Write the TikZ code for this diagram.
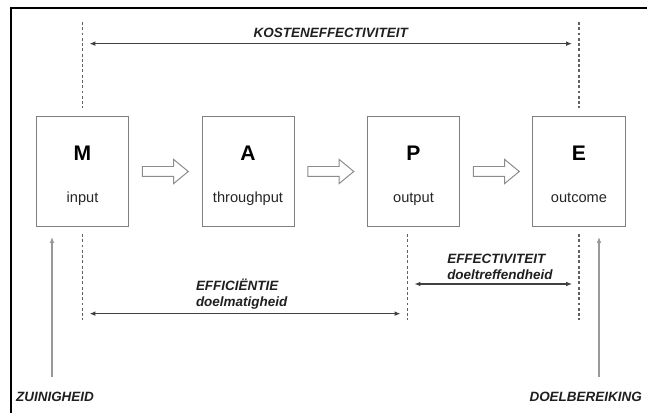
\documentclass[tikz,border=0pt]{standalone}
\usepackage{fontspec}
\setmainfont{Liberation Sans}
\usetikzlibrary{arrows.meta, positioning, shapes.arrows, calc}

\begin{document}
\begin{tikzpicture}[
    node distance=1cm and 2.175cm,
    stage/.style={rectangle, draw=black!50, line width=0.85pt, minimum width=2.76cm, minimum height=3.3cm, inner sep=0pt},
    letter/.style={anchor=base, inner sep=0pt, font=\fontsize{18}{21}\selectfont\bfseries},
    role/.style={anchor=base, inner sep=0pt, text=black!85, font=\fontsize{12.5}{15}\selectfont},
    flow/.style={single arrow, draw=black!45, fill=white, line width=0.85pt, minimum height=1.38cm, inner sep=0.135cm, single arrow head extend=0.21cm, single arrow tip angle=79},
    tag/.style={font=\fontsize{11.5}{13.8}\selectfont\bfseries\itshape, text=black!88, align=left},
    guide/.style={draw=black!62, line width=1pt, dash pattern=on 2.5pt off 2pt},
    span/.style={draw=black!75, line width=1.05pt, {Latex[length=5pt,width=4pt]}-{Latex[length=5pt,width=4pt]}, shorten <=0.21cm, shorten >=0.21cm},
    rise/.style={draw=black!40, line width=1pt, -{Latex[length=5pt,width=4pt,fill=black!80]}, shorten >=0.3cm},
    frame/.style={line width=2.2pt}
]
\useasboundingbox (0,0) rectangle (19.41,-12.36);

% Frame
\draw[frame] (0.33,-12.6) -- (0.33,-0.24) -- (19.7,-0.24);

% Stages
\node[stage, anchor=north west] (M) at (1.08,-3.48) {};
\node[stage, right=of M] (A) {};
\node[stage, right=of A] (P) {};
\node[stage, right=of P] (E) {};

\node[letter] (Mk) at ([yshift=-1.32cm]M.north) {M};
\node[role] (Mr) at ([yshift=-2.6cm]M.north) {input};
\node[letter] (Ak) at ([yshift=-1.32cm]A.north) {A};
\node[role] (Ar) at ([yshift=-2.6cm]A.north) {throughput};
\node[letter] (Pk) at ([yshift=-1.32cm]P.north) {P};
\node[role] (Pr) at ([yshift=-2.6cm]P.north) {output};
\node[letter] (Ek) at ([yshift=-1.32cm]E.north) {E};
\node[role] (Er) at ([yshift=-2.6cm]E.north) {outcome};

% Hollow arrows
\node[flow] (MA) at ($(M.east)!0.5!(A.west)+(-0.09,0)$) {};
\node[flow] (AP) at ($(A.east)!0.5!(P.west)+(-0.09,0)$) {};
\node[flow] (PE) at ($(P.east)!0.5!(E.west)+(-0.09,0)$) {};

% Guides
\coordinate (Mhi) at ([yshift=2.82cm]M.north);
\coordinate (Mlo) at ([yshift=0.24cm]M.north);
\coordinate (Ehi) at ([yshift=2.82cm]E.north);
\coordinate (Elo) at ([yshift=0.24cm]E.north);
\draw[guide] (Mhi) -- (Mlo);
\draw[guide] (Ehi) -- (Elo);

\coordinate (Mup) at ([yshift=-0.21cm]M.south);
\coordinate (Mdn) at ([yshift=-2.79cm]M.south);
\coordinate (Pup) at ([xshift=-0.18cm,yshift=-0.21cm]P.south);
\coordinate (Pdn) at ([xshift=-0.18cm,yshift=-2.79cm]P.south);
\coordinate (Eup) at ([yshift=-0.21cm]E.south);
\coordinate (Edn) at ([yshift=-2.79cm]E.south);
\draw[guide] (Mup) -- (Mdn);
\draw[guide] (Pup) -- (Pdn);
\draw[guide] (Eup) -- (Edn);

% Spans
\coordinate (kM) at ([yshift=2.17cm]M.north);
\coordinate (kE) at ([yshift=2.17cm]E.north);
\draw[span] (kM) -- (kE) node[tag, midway, above, yshift=1pt] {KOSTENEFFECTIVITEIT};

\coordinate (eM) at ([yshift=-2.6cm]M.south);
\coordinate (eP) at ([xshift=-0.18cm,yshift=-2.6cm]P.south);
\draw[span] (eM) -- (eP) node[tag, midway, above, xshift=-0.1cm] {EFFICIËNTIE\\doelmatigheid};

\coordinate (tP) at ([xshift=-0.18cm,yshift=-1.71cm]P.south);
\coordinate (tE) at ([yshift=-1.71cm]E.south);
\draw[span] (tP) -- (tE) node[tag, midway, above, xshift=0.2cm] {EFFECTIVITEIT\\doeltreffendheid};

% Rising arrows
\node[tag] (zuin) at (1.65,-11.91) {ZUINIGHEID};
\node[tag] (doel) at (17.57,-11.91) {DOELBEREIKING};
\coordinate (zfoot) at ([xshift=-0.09cm,yshift=0.33cm]zuin.north);
\coordinate (dfoot) at ([xshift=0.4cm,yshift=0.33cm]doel.north);
\draw[rise] (zfoot) -- (zfoot |- M.south);
\draw[rise] (dfoot) -- (dfoot |- E.south);

\end{tikzpicture}
\end{document}
